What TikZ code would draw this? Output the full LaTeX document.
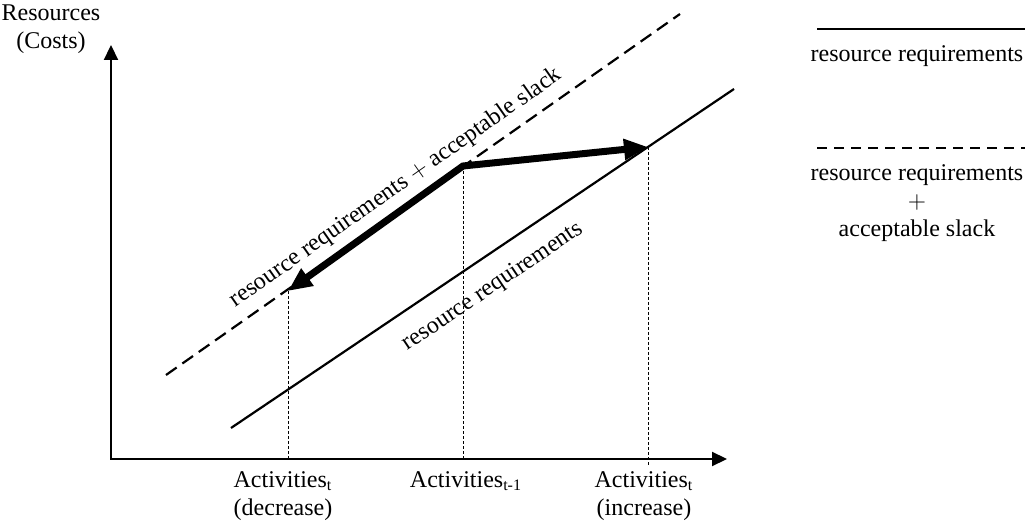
\documentclass[tikz,border=0pt]{standalone}
\usepackage{fontspec}
\setmainfont{Liberation Serif}
\usetikzlibrary{arrows.meta, positioning, calc}

\begin{document}
\begin{tikzpicture}[
  x=0.5pt, y=-0.5pt,
  every node/.style={font=\fontsize{12}{14}\selectfont},
  axisline/.style={line width=1.1pt, {Triangle[length=7.5pt, width=7pt]}-{Triangle[length=7.5pt, width=7pt]}},
  reqline/.style={line width=1.1pt},
  slackline/.style={line width=1.1pt, dash pattern=on 6.5pt off 3.5pt},
  legslack/.style={line width=1.1pt, dash pattern=on 5pt off 3.5pt},
  guideline/.style={line width=0.45pt, dash pattern=on 1.5pt off 1pt},
  shiftarrow/.style={line width=3.5pt, {Triangle[length=12pt, width=10pt]}-{Triangle[length=12pt, width=10pt]}},
  ticklabel/.style={align=center, inner sep=0pt, anchor=north}
]
  \useasboundingbox (0,0) rectangle (1029,529);

  % Axes - corner first, then the two tips
  \coordinate (origin) at (111,459);
  \coordinate (ytip) at (111,45);
  \coordinate (xtip) at (727,459);
  \draw[axisline] (ytip) -- (origin) -- (xtip);
  \node[ticklabel] (ylabel) at (51,4) {Resources\\(Costs)};

  % Requirement lines
  \coordinate (req-start) at (231,428);
  \coordinate (req-end) at (734,89);
  \coordinate (slack-start) at (166,375);
  \coordinate (slack-end) at (680,14);
  \draw[reqline] (req-start) -- (req-end);
  \draw[slackline] (slack-start) -- (slack-end);
  \node[rotate=35.1] (slack-text) at (396,188) {resource requirements $+$ acceptable slack};
  \node[rotate=34] (req-text) at (493,287) {resource requirements};

  % Activity levels
  \coordinate (act-dec) at (288,291);
  \coordinate (act-prev) at (463,166);
  \coordinate (act-inc) at (648,147);
  \coordinate (inc-foot) at (648,467);
  \draw[guideline] (act-dec) -- (act-dec |- origin);
  \draw[guideline] (act-prev) -- (act-prev |- origin);
  \draw[guideline] (act-inc) -- (inc-foot);
  \draw[shiftarrow] (act-dec) -- (act-prev) -- (act-inc);

  % Tick labels
  \node[ticklabel] (dec-label) at (283,471) {Activities\textsubscript{t}\\(decrease)};
  \node[ticklabel] (prev-label) at (466,471) {Activities\textsubscript{t-1}};
  \node[ticklabel] (inc-label) at (644,471) {Activities\textsubscript{t}\\(increase)};

  % Legend
  \coordinate (leg-req-a) at (817,29);
  \coordinate (leg-req-b) at (1025,29);
  \coordinate (leg-slack-a) at (817,148);
  \coordinate (leg-slack-b) at (1025,148);
  \draw[reqline] (leg-req-a) -- (leg-req-b);
  \draw[legslack] (leg-slack-a) -- (leg-slack-b);
  \node[ticklabel] (leg-req-text) at (917,45) {resource requirements};
  \node[ticklabel] (leg-slack-text) at (917,164) {resource requirements\\$+$\\acceptable slack};
\end{tikzpicture}
\end{document}
